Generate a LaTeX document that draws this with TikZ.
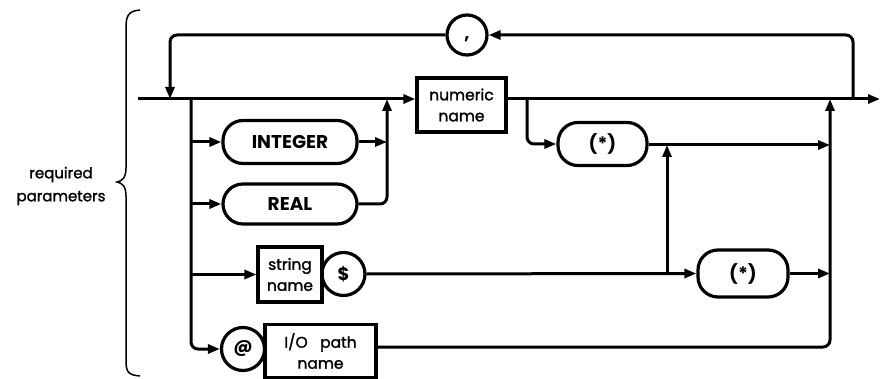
\documentclass[tikz,border=0pt]{standalone}
\usepackage{fontspec}
\setmainfont{Poppins}
\newfontfamily\medf{Poppins}[FakeBold=1.5]
\usetikzlibrary{arrows.meta}
\begin{document}
\begin{tikzpicture}[x=1pt,y=-1pt,
  line width=3pt,
  >={Triangle[length=12pt,width=9pt]},
  boxn/.style={draw,rectangle,align=center,inner sep=1pt,font=\medf\fontsize{15.5}{21}\selectfont,line width=3.2pt},
  pill/.style={draw,rectangle,rounded corners=20pt,inner sep=0pt,font=\fontsize{18.5}{20}\selectfont\bfseries,line width=3.2pt},
  circ/.style={draw,circle,inner sep=0pt,font=\fontsize{18}{20}\selectfont\bfseries,line width=3.2pt},
  wire/.style={line width=3pt,rounded corners=7pt}]
\useasboundingbox (0,0) rectangle (880,379);
% nodes
\node[boxn,minimum width=89pt,minimum height=54pt] (num) at (461.5,105) {numeric\\name};
\node[circ,minimum size=40pt,text height=0pt,text depth=0pt] (comma) at (467,35) {\raisebox{-5pt}[0pt][0pt]{,}};
\node[pill,minimum width=134pt,minimum height=43pt] (int) at (290,142) {INTEGER};
\node[pill,minimum width=134pt,minimum height=40pt] (real) at (290,204) {REAL};
\node[boxn,minimum width=64pt,minimum height=55pt] (str) at (290,274.5) {string\\name};
\node[circ,minimum size=43pt] (dol) at (343.5,274) {\$};
\node[circ,minimum size=43pt] (at) at (243,349) {@};
\node[boxn,minimum width=111pt,minimum height=53pt] (io) at (320.5,351) {I/O\hspace{0.8em}path\\name};
\node[pill,minimum width=89pt,minimum height=43pt] (s1) at (602.5,144) {(*)};
\node[pill,minimum width=90pt,minimum height=47pt] (s2) at (743,273.5) {(*)};
% coordinates
\coordinate (start) at (138,99);
\coordinate (end) at (880,99);
\coordinate (jl) at (170,99);
\coordinate (jb) at (191,99);
\coordinate (jr) at (387,99);
\coordinate (jn) at (527,99);
\coordinate (jc) at (830,99);
\coordinate (jx) at (853,99);
\coordinate (jm) at (667,145);
% main line
\draw[->] (start) -- (num.west |- start);
\draw[->] (num.east |- start) -- (end);
% loop back
\draw[wire,->] (jx) -- (jx |- comma) -- (comma.east);
\draw[wire,->] (comma.west) -- (jl |- comma) -- (jl);
% left branches
\draw[wire,->] (jb) -- (jb |- at) -- (at.west);
\draw[wire,->] (jb |- int) -- (int.west);
\draw[wire,->] (jb |- real) -- (real.west);
\draw[wire,->] (jb |- str) -- (str.west);
% join into numeric
\draw[->] (int.east) -- (jr |- int);
\draw[wire,->] (real.east) -- (jr |- real) -- (jr);
% string / dollar
\draw[->] (dol.east) -- (s2.west);
\draw[->] (jm |- dol) -- (jm);
% numeric subscripts
\draw[wire,->] (jn) -- (jn |- s1) -- (s1.west);
\draw[->] (s1.east |- jm) -- (jc |- jm);
\draw[->] (s2.east) -- (jc |- s2);
\draw[wire,->] (io.east |- 0,347) -- (jc |- 0,347) -- (jc);
% brace
\draw[line width=1.5pt] (140,10) .. controls (128,11) and (126,16) .. (126,28)
  -- (126,168) .. controls (126,178) and (122,181) .. (117,182)
  .. controls (122,183) and (126,186) .. (126,196)
  -- (126,360) .. controls (126,372) and (128,375) .. (140,376);
% label
\node[align=center,font=\medf\fontsize{15}{23}\selectfont] (lab) at (61,186) {required\\parameters};
\end{tikzpicture}
\end{document}
